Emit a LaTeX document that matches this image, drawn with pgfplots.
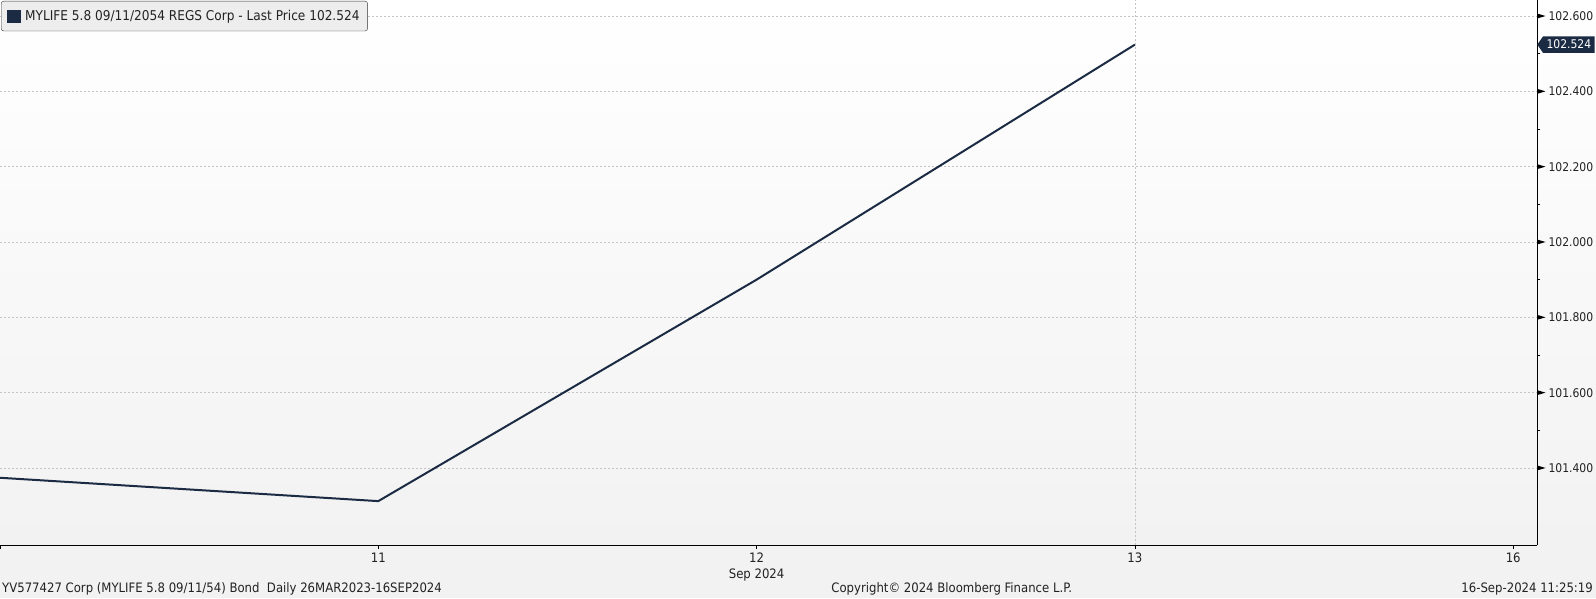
\documentclass[border=0pt]{standalone}
\usepackage{pgfplots}
\pgfplotsset{compat=1.18}
\usepackage{fontspec}
\setmainfont{DejaVu Sans Condensed}
\usetikzlibrary{shapes.symbols}
\definecolor{bbnavy}{HTML}{1B2B44}
\definecolor{bggray}{HTML}{F2F2F2}
\definecolor{gridgray}{HTML}{C4C4C4}
\definecolor{legendfill}{HTML}{EDEDED}
\definecolor{txt}{HTML}{222222}

% right pointing tick marker for the price axis
\pgfdeclareplotmark{rtri}{%
	\pgfpathmoveto{\pgfpoint{0pt}{2.5pt}}%
	\pgfpathlineto{\pgfpoint{8.5pt}{0pt}}%
	\pgfpathlineto{\pgfpoint{0pt}{-2.5pt}}%
	\pgfpathclose
	\pgfusepathqfill}

\begin{document}
\begin{tikzpicture}[font=\fontsize{13}{16}\selectfont, text=txt]
	\fill[bggray] (0pt,-53pt) rectangle (1596pt,0pt);
	\shade[top color=white, bottom color=bggray] (0pt,0pt) rectangle (1596pt,545pt);

	\begin{axis}[
		at = {(0pt,0pt)}, anchor = south west,
		scale only axis,
		width = 1537pt, height = 545pt,
		clip = false,
		xmin = 0, xmax = 4.063,
		ymin = 101.1955, ymax = 102.6425,
		axis x line* = bottom,
		axis y line* = right,
		axis line style = {black, line width=1pt},
		tick align = outside,
		xtick = {0, 1, 2, 3, 4},
		xticklabels = {, 11, {12\\Sep 2024}, 13, 16},
		xticklabel style = {align=center, text=txt, font=\fontsize{13}{16}\selectfont},
		major x tick style = {black, line width=0.8pt},
		major tick length = 4pt,
		ytick = {101.4, 101.6, 101.8, 102.0, 102.2, 102.4, 102.6},
		minor y tick num = 1,
		minor tick length = 3pt,
		major y tick style = {draw=none},
		minor y tick style = {black, line width=0.8pt},
		yticklabel style = {
			anchor = west, xshift = 4pt, text = txt,
			font = \fontsize{12}{15}\selectfont,
			/pgf/number format/fixed,
			/pgf/number format/fixed zerofill,
			/pgf/number format/precision = 3,
		},
		/pgf/number format/assume math mode = true,
		ymajorgrids,
		extra x ticks = {3},
		extra x tick labels = {},
		extra x tick style = {grid=major, major tick length=0pt},
		major grid style = {draw=gridgray, dash pattern=on 2pt off 2pt, line width=0.8pt},
		legend style = {
			at = {(0, 1)}, anchor = north west,
			xshift = 1pt, yshift = -1pt,
			fill = legendfill, draw = black!80,
			rounded corners = 2.5pt,
			font = \fontsize{13.5}{16}\selectfont,
			inner xsep = 6pt, inner ysep = 7pt,
		},
		legend image code/.code = {
			\fill[bbnavy, sharp corners] (1pt,-5.5pt) rectangle (12.5pt,5.5pt);
			\path (15pt,0pt);
		},
	]

		\addplot[color=bbnavy, line width=2pt] coordinates {
			(0, 101.374) (1, 101.312)
			(2, 101.900) (3, 102.524)
		};
		\addlegendentry{MYLIFE 5.8 09/11/2054 REGS Corp - Last Price 102.524}

		\addplot[only marks, mark=rtri, color=black, forget plot] coordinates {
			(4.063, 101.4) (4.063, 101.6) (4.063, 101.8) (4.063, 102.0)
			(4.063, 102.2) (4.063, 102.4) (4.063, 102.6)
		};

		\node[signal, signal to=west, signal pointer angle=110, fill=bbnavy,
			text=white, anchor=west, inner xsep=3.5pt, inner ysep=1pt,
			minimum height=16.5pt, font=\fontsize{12}{15}\selectfont]
			at (axis cs:4.063, 102.524) {102.524};
	\end{axis}

	\node[anchor=west, inner sep=0pt] at (2pt,-44pt)
		{YV577427 Corp (MYLIFE 5.8 09/11/54) Bond\ \ Daily 26MAR2023-16SEP2024};
	\node[inner sep=0pt] at (951.7pt,-44pt) {Copyright© 2024 Bloomberg Finance L.P.};
	\node[anchor=east, inner sep=0pt] at (1593pt,-44pt) {16-Sep-2024 11:25:19};

	\pgfresetboundingbox
	\useasboundingbox (0pt,-53pt) rectangle (1596pt,545pt);
\end{tikzpicture}
\end{document}
